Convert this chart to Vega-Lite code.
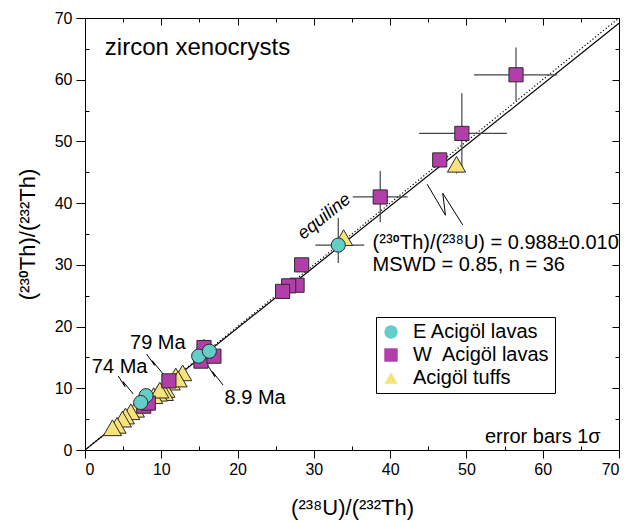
{
  "$schema": "https://vega.github.io/schema/vega-lite/v6.json",
  "width": 534,
  "height": 432,
  "autosize": "none",
  "padding": {"left": 85, "top": 18, "right": 11, "bottom": 73},
  "background": "white",
  "datasets": {
    "pts": [
      {"grp": "W\u00a0 Acigöl lavas", "x": 56.5, "y": 60.8, "xlo": 51.0, "xhi": 61.9, "ylo": 56.6, "yhi": 65.2},
      {"grp": "W\u00a0 Acigöl lavas", "x": 49.4, "y": 51.3, "xlo": 43.8, "xhi": 55.3, "ylo": 45.2, "yhi": 57.8},
      {"grp": "W\u00a0 Acigöl lavas", "x": 46.5, "y": 47.0, "xlo": 45.9, "xhi": 47.1, "ylo": 46.3, "yhi": 47.7},
      {"grp": "W\u00a0 Acigöl lavas", "x": 38.7, "y": 41.0, "xlo": 35.1, "xhi": 42.3, "ylo": 36.9, "yhi": 45.2},
      {"grp": "W\u00a0 Acigöl lavas", "x": 28.4, "y": 30.0, "xlo": 28.0, "xhi": 28.8, "ylo": 29.4, "yhi": 30.6},
      {"grp": "W\u00a0 Acigöl lavas", "x": 27.8, "y": 26.7, "xlo": 27.3, "xhi": 28.3, "ylo": 26.1, "yhi": 27.3},
      {"grp": "W\u00a0 Acigöl lavas", "x": 26.7, "y": 26.6, "xlo": 26.2, "xhi": 27.2, "ylo": 26.0, "yhi": 27.2},
      {"grp": "W\u00a0 Acigöl lavas", "x": 25.9, "y": 25.7, "xlo": 25.4, "xhi": 26.4, "ylo": 25.1, "yhi": 26.3},
      {"grp": "W\u00a0 Acigöl lavas", "x": 15.6, "y": 16.6, "xlo": 14.6, "xhi": 16.6, "ylo": 15.6, "yhi": 18.0},
      {"grp": "W\u00a0 Acigöl lavas", "x": 15.2, "y": 14.4, "xlo": 14.7, "xhi": 15.7, "ylo": 13.8, "yhi": 15.0},
      {"grp": "W\u00a0 Acigöl lavas", "x": 16.9, "y": 15.2, "xlo": 16.4, "xhi": 17.4, "ylo": 14.6, "yhi": 15.8},
      {"grp": "W\u00a0 Acigöl lavas", "x": 11.0, "y": 11.2, "xlo": 10.5, "xhi": 11.5, "ylo": 10.6, "yhi": 11.8},
      {"grp": "W\u00a0 Acigöl lavas", "x": 7.7, "y": 7.1, "xlo": 7.3, "xhi": 8.1, "ylo": 6.7, "yhi": 7.5},
      {"grp": "W\u00a0 Acigöl lavas", "x": 8.3, "y": 7.6, "xlo": 7.9, "xhi": 8.7, "ylo": 7.2, "yhi": 8.0},
      {"grp": "E Acigöl lavas", "x": 33.2, "y": 33.2, "xlo": 30.2, "xhi": 36.6, "ylo": 30.3, "yhi": 37.6},
      {"grp": "E Acigöl lavas", "x": 14.9, "y": 15.2, "xlo": 14.5, "xhi": 15.3, "ylo": 14.7, "yhi": 15.7},
      {"grp": "E Acigöl lavas", "x": 16.3, "y": 16.0, "xlo": 15.9, "xhi": 16.7, "ylo": 15.5, "yhi": 16.5},
      {"grp": "E Acigöl lavas", "x": 8.0, "y": 8.8, "xlo": 7.6, "xhi": 8.4, "ylo": 8.3, "yhi": 9.3},
      {"grp": "E Acigöl lavas", "x": 7.3, "y": 7.7, "xlo": 6.9, "xhi": 7.7, "ylo": 7.2, "yhi": 8.2},
      {"grp": "Acigöl tuffs", "x": 48.7, "y": 46.3, "xlo": 48.4, "xhi": 49.0, "ylo": 44.8, "yhi": 46.8},
      {"grp": "Acigöl tuffs", "x": 33.9, "y": 34.4, "xlo": 33.6, "xhi": 34.2, "ylo": 33.9, "yhi": 34.9},
      {"grp": "Acigöl tuffs", "x": 12.8, "y": 12.5, "xlo": 12.5, "xhi": 13.1, "ylo": 11.6, "yhi": 13.0},
      {"grp": "Acigöl tuffs", "x": 11.9, "y": 12.0, "xlo": 11.6, "xhi": 12.2, "ylo": 11.1, "yhi": 12.5},
      {"grp": "Acigöl tuffs", "x": 11.3, "y": 11.0, "xlo": 11.0, "xhi": 11.6, "ylo": 10.1, "yhi": 11.5},
      {"grp": "Acigöl tuffs", "x": 10.6, "y": 9.8, "xlo": 10.3, "xhi": 10.9, "ylo": 8.9, "yhi": 10.3},
      {"grp": "Acigöl tuffs", "x": 10.4, "y": 9.3, "xlo": 10.1, "xhi": 10.7, "ylo": 8.4, "yhi": 9.8},
      {"grp": "Acigöl tuffs", "x": 9.6, "y": 9.2, "xlo": 9.3, "xhi": 9.9, "ylo": 8.3, "yhi": 9.7},
      {"grp": "Acigöl tuffs", "x": 9.0, "y": 8.8, "xlo": 8.7, "xhi": 9.3, "ylo": 7.9, "yhi": 9.3},
      {"grp": "Acigöl tuffs", "x": 6.6, "y": 6.6, "xlo": 6.3, "xhi": 6.9, "ylo": 5.7, "yhi": 7.1},
      {"grp": "Acigöl tuffs", "x": 6.0, "y": 6.2, "xlo": 5.7, "xhi": 6.3, "ylo": 5.3, "yhi": 6.7},
      {"grp": "Acigöl tuffs", "x": 5.3, "y": 5.5, "xlo": 5.0, "xhi": 5.6, "ylo": 4.6, "yhi": 6.0},
      {"grp": "Acigöl tuffs", "x": 4.9, "y": 5.0, "xlo": 4.6, "xhi": 5.2, "ylo": 4.1, "yhi": 5.5},
      {"grp": "Acigöl tuffs", "x": 4.2, "y": 4.0, "xlo": 3.9, "xhi": 4.5, "ylo": 3.1, "yhi": 4.5},
      {"grp": "Acigöl tuffs", "x": 3.6, "y": 3.6, "xlo": 3.3, "xhi": 3.9, "ylo": 2.4, "yhi": 4.1},
      {"grp": "Acigöl tuffs", "x": 12.2, "y": 11.5, "xlo": 11.9, "xhi": 12.5, "ylo": 10.6, "yhi": 12.0},
      {"grp": "Acigöl tuffs", "x": 9.8, "y": 9.7, "xlo": 9.5, "xhi": 10.1, "ylo": 8.8, "yhi": 10.2}
    ],
    "lines": [
      {"name": "fit", "x": 0, "y": 0},
      {"name": "fit", "x": 70, "y": 69.16},
      {"name": "equi", "x": 0, "y": 0},
      {"name": "equi", "x": 70, "y": 70}
    ],
    "zig": [
      {"id": "a", "o": 1, "x": 44.86, "y": 43.06},
      {"id": "a", "o": 2, "x": 47.25, "y": 38.04},
      {"id": "a", "o": 3, "x": 46.9, "y": 41.6},
      {"id": "a", "o": 4, "x": 49.52, "y": 36.47},
      {"id": "b", "o": 1, "x": 8.07, "y": 15.56},
      {"id": "b", "o": 2, "x": 9.12, "y": 13.73},
      {"id": "b", "o": 3, "x": 8.81, "y": 14.47},
      {"id": "b", "o": 4, "x": 10.25, "y": 12.31},
      {"id": "c", "o": 1, "x": 4.36, "y": 11.99},
      {"id": "c", "o": 2, "x": 5.24, "y": 10.26},
      {"id": "c", "o": 3, "x": 5.01, "y": 11.07},
      {"id": "c", "o": 4, "x": 6.32, "y": 9.08},
      {"id": "d", "o": 1, "x": 16.14, "y": 13.61},
      {"id": "d", "o": 2, "x": 17.02, "y": 11.88},
      {"id": "d", "o": 3, "x": 16.71, "y": 12.69},
      {"id": "d", "o": 4, "x": 18.1, "y": 10.53}
    ],
    "big": [
      {"t": "zircon xenocrysts", "x": 2.6, "y": 65.2}
    ],
    "labels": [
      {"t": "(²³⁰Th)/(²³⁸U) = 0.988±0.010", "x": 37.7, "y": 33.5},
      {"t": "MSWD = 0.85, n = 36", "x": 37.7, "y": 30.0},
      {"t": "79 Ma", "x": 5.9, "y": 17.3},
      {"t": "74 Ma", "x": 0.9, "y": 13.5},
      {"t": "8.9 Ma", "x": 18.3, "y": 8.4}
    ],
    "rlabels": [
      {"t": "error bars 1σ", "x": 67.6, "y": 2.1}
    ],
    "eq": [{"t": "equiline", "x": 31.4, "y": 37.8}]
  },
  "layer": [
    {
      "data": {"name": "lines"},
      "transform": [{"filter": "datum.name == 'fit'"}],
      "mark": {"type": "line", "color": "black", "strokeWidth": 1.2, "clip": true},
      "encoding": {
        "x": {"field": "x", "type": "quantitative", "scale": {"domain": [0, 70], "nice": false}, "axis": {"orient": "bottom", "values": [0, 10, 20, 30, 40, 50, 60, 70], "tickSize": 8, "labelPadding": 3, "title": "(²³⁸U)/(²³²Th)", "titlePadding": 20}},
        "y": {"field": "y", "type": "quantitative", "scale": {"domain": [0, 70], "nice": false}, "axis": {"orient": "left", "values": [0, 10, 20, 30, 40, 50, 60, 70], "tickSize": 9, "labelPadding": 4, "title": "(²³⁰Th)/(²³²Th)", "titlePadding": 15}}
      }
    },
    {
      "data": {"name": "lines"},
      "transform": [{"filter": "datum.name == 'equi'"}],
      "mark": {"type": "line", "color": "black", "strokeWidth": 1.2, "strokeDash": [1.2, 2.2], "clip": true},
      "encoding": {
        "x": {"field": "x", "type": "quantitative", "axis": {"orient": "top", "values": [0, 10, 20, 30, 40, 50, 60, 70], "tickSize": -7, "labels": false, "title": null}},
        "y": {"field": "y", "type": "quantitative", "axis": {"orient": "right", "values": [0, 10, 20, 30, 40, 50, 60, 70], "tickSize": -7, "labels": false, "title": null}}
      }
    },
    {
      "data": {"name": "pts"},
      "mark": {"type": "rule", "color": "#444", "strokeWidth": 1.2},
      "encoding": {
        "x": {"field": "xlo", "type": "quantitative", "axis": {"orient": "bottom", "values": [5, 15, 25, 35, 45, 55, 65], "tickSize": -4, "labels": false, "domain": false, "title": null}},
        "x2": {"field": "xhi"},
        "y": {"field": "y", "type": "quantitative", "axis": {"orient": "left", "values": [5, 15, 25, 35, 45, 55, 65], "tickSize": -4, "labels": false, "domain": false, "title": null}}
      }
    },
    {
      "data": {"name": "pts"},
      "mark": {"type": "rule", "color": "#444", "strokeWidth": 1.2},
      "encoding": {
        "x": {"field": "x", "type": "quantitative", "axis": {"orient": "top", "values": [5, 15, 25, 35, 45, 55, 65], "tickSize": -4, "labels": false, "domain": false, "title": null}},
        "y": {"field": "ylo", "type": "quantitative", "axis": {"orient": "right", "values": [5, 15, 25, 35, 45, 55, 65], "tickSize": -4, "labels": false, "domain": false, "title": null}},
        "y2": {"field": "yhi"}
      }
    },
    {
      "data": {"name": "zig"},
      "mark": {"type": "line", "color": "black", "strokeWidth": 1},
      "encoding": {
        "x": {"field": "x", "type": "quantitative", "axis": null},
        "y": {"field": "y", "type": "quantitative", "axis": null},
        "detail": {"field": "id"},
        "order": {"field": "o"}
      }
    },
    {
      "data": {"name": "pts"},
      "transform": [{"filter": "datum.grp == 'Acigöl tuffs'"}],
      "mark": {"type": "point", "filled": true, "opacity": 1, "stroke": "#2a2a2a", "strokeWidth": 1, "size": 330},
      "encoding": {
        "x": {"field": "x", "type": "quantitative", "axis": null},
        "y": {"field": "y", "type": "quantitative", "axis": null},
        "fill": {"field": "grp", "type": "nominal", "scale": {"domain": ["E Acigöl lavas", "W\u00a0 Acigöl lavas", "Acigöl tuffs"], "range": ["#63CEC8", "#B23FA9", "#F6E37C"]}, "legend": {"title": null}},
        "shape": {"field": "grp", "type": "nominal", "scale": {"domain": ["E Acigöl lavas", "W\u00a0 Acigöl lavas", "Acigöl tuffs"], "range": ["circle", "square", "triangle-up"]}, "legend": {"title": null}}
      }
    },
    {
      "data": {"name": "pts"},
      "transform": [{"filter": "datum.grp != 'Acigöl tuffs'"}],
      "mark": {"type": "point", "filled": true, "opacity": 1, "stroke": "#2a2a2a", "strokeWidth": 1, "size": 200},
      "encoding": {
        "x": {"field": "x", "type": "quantitative", "axis": null},
        "y": {"field": "y", "type": "quantitative", "axis": null},
        "fill": {"field": "grp", "type": "nominal", "legend": {"title": null}},
        "shape": {"field": "grp", "type": "nominal", "legend": {"title": null}}
      }
    },
    {
      "data": {"name": "big"},
      "mark": {"type": "text", "baseline": "middle", "align": "left", "fontSize": 24, "color": "black", "font": "Liberation Sans"},
      "encoding": {
        "x": {"field": "x", "type": "quantitative", "axis": null},
        "y": {"field": "y", "type": "quantitative", "axis": null},
        "text": {"field": "t"}
      }
    },
    {
      "data": {"name": "labels"},
      "mark": {"type": "text", "baseline": "middle", "align": "left", "fontSize": 20, "color": "black", "font": "Liberation Sans, Roboto, Noto Sans"},
      "encoding": {
        "x": {"field": "x", "type": "quantitative", "axis": null},
        "y": {"field": "y", "type": "quantitative", "axis": null},
        "text": {"field": "t"}
      }
    },
    {
      "data": {"name": "rlabels"},
      "mark": {"type": "text", "baseline": "middle", "align": "right", "fontSize": 20, "color": "black", "font": "Liberation Sans"},
      "encoding": {
        "x": {"field": "x", "type": "quantitative", "axis": null},
        "y": {"field": "y", "type": "quantitative", "axis": null},
        "text": {"field": "t"}
      }
    },
    {
      "data": {"name": "eq"},
      "mark": {"type": "text", "baseline": "middle", "align": "center", "angle": -38.5, "fontStyle": "italic", "fontSize": 18, "color": "black", "font": "Liberation Sans"},
      "encoding": {
        "x": {"field": "x", "type": "quantitative", "axis": null},
        "y": {"field": "y", "type": "quantitative", "axis": null},
        "text": {"field": "t"}
      }
    }
  ],
  "resolve": {"axis": {"x": "independent", "y": "independent"}},
  "config": {
    "view": {"stroke": "black", "strokeWidth": 1},
    "font": "Liberation Sans",
    "axis": {"grid": false, "domainColor": "black", "tickColor": "black", "labelColor": "black", "titleColor": "black", "labelFont": "Liberation Sans", "titleFont": "Liberation Sans, Roboto, Noto Sans", "labelFontSize": 16, "titleFontSize": 22, "titleFontWeight": "normal"},
    "legend": {"orient": "none", "legendX": 291, "legendY": 299, "strokeColor": "black", "fillColor": "white", "padding": 5, "labelFontSize": 20, "labelFont": "Liberation Sans", "labelColor": "black", "symbolSize": 180, "symbolStrokeColor": "#2a2a2a", "symbolStrokeWidth": 1, "rowPadding": 3, "labelOffset": 12, "labelLimit": 300}
  }
}
